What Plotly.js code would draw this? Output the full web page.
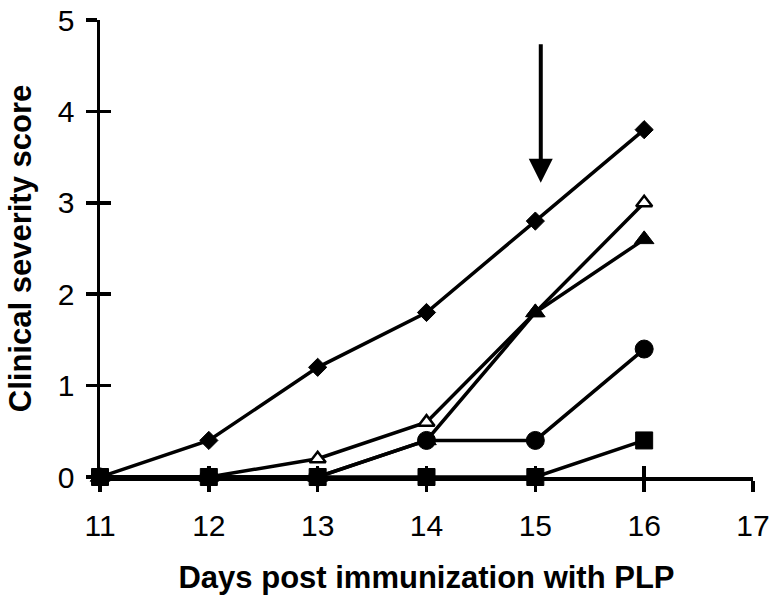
<!DOCTYPE html>
<html>
<head>
<meta charset="utf-8">
<script src="https://cdn.plot.ly/plotly-3.0.1.min.js"></script>
<style>html,body{margin:0;padding:0;background:#fff;}#chart{width:779px;height:595px;}</style>
</head>
<body>
<div id="chart"></div>
<script>
const days = [11, 12, 13, 14, 15, 16];
const squareScores = [0, 0, 0, 0, 0, 0.4];
const circleScores = [0, 0, 0, 0.4, 0.4, 1.4];
const openTriangleScores = [0, 0, 0.2, 0.6, 1.8, 3.0];
const filledTriangleScores = [0, 0, 0, 0.4, 1.8, 2.6];
const diamondScores = [0, 0.4, 1.2, 1.8, 2.8, 3.8];
const xTicks = [11, 12, 13, 14, 15, 16, 17];
const yTicks = [0, 1, 2, 3, 4, 5];
const arrowDay = 15.05, arrowTop = 4.75, arrowTip = 3.22;

const FONT = "Arial, 'Liberation Sans', sans-serif";

function series(y, symbol, size, fill, lw) {
  return {
    x: days, y: y, type: 'scatter', mode: 'lines+markers', cliponaxis: false,
    line: {color: '#000', width: 3.5},
    marker: {symbol: symbol, size: size, color: fill, line: {color: '#000', width: lw}},
    showlegend: false, hoverinfo: 'skip'
  };
}

const data = [
  series(squareScores, 'square', 17, '#000', 1),
  series(circleScores, 'circle', 18, '#000', 1),
  series(openTriangleScores, 'triangle-up', 14, '#fff', 2.5),
  series(filledTriangleScores, 'triangle-up', 17, '#000', 1),
  series(diamondScores, 'diamond', 14, '#000', 1)
];
// invisible trace for the overlay axes that draw the inner half of the ticks
data.push({x: [11], y: [0], xaxis: 'x2', yaxis: 'y2', mode: 'markers', marker: {opacity: 0}, showlegend: false, hoverinfo: 'skip'});

const axisCommon = {showgrid: false, zeroline: false, showline: true, linecolor: '#000', linewidth: 3.5,
  ticks: 'outside', tickcolor: '#000', tickwidth: 3.5, fixedrange: true};

const layout = {
  width: 779, height: 595,
  margin: {l: 100, r: 26, t: 20, b: 118},
  paper_bgcolor: '#fff', plot_bgcolor: '#fff',
  font: {family: FONT, color: '#000'},
  xaxis: Object.assign({}, axisCommon, {
    range: [11, 17], tickvals: xTicks, ticklen: 11, ticklabelstandoff: 8,
    tickfont: {size: 30, family: FONT, color: '#000'},
    title: {text: '<b>Days post immunization with PLP</b>', font: {size: 31, family: FONT, color: '#000'}, standoff: 30}
  }),
  yaxis: Object.assign({}, axisCommon, {
    range: [0, 5], tickvals: yTicks, ticklen: 11, ticklabelstandoff: 5,
    tickfont: {size: 30, family: FONT, color: '#000'},
    title: {text: '<b>Clinical severity score</b>', font: {size: 31, family: FONT, color: '#000'}, standoff: 18}
  }),
  xaxis2: Object.assign({}, axisCommon, {overlaying: 'x', anchor: 'y2', side: 'bottom', range: [11, 17], tickvals: xTicks,
    ticks: 'inside', ticklen: 11, showticklabels: false, showline: false}),
  yaxis2: Object.assign({}, axisCommon, {overlaying: 'y', anchor: 'x2', side: 'left', range: [0, 5], tickvals: yTicks,
    ticks: 'inside', ticklen: 11, showticklabels: false, showline: false}),
  annotations: [{
    x: arrowDay, y: arrowTip, ax: arrowDay, ay: arrowTop, xref: 'x', yref: 'y', axref: 'x', ayref: 'y',
    text: '', showarrow: true, arrowhead: 2, arrowsize: 1.2, arrowwidth: 4, arrowcolor: '#000', standoff: 0
  }]
};

Plotly.newPlot('chart', data, layout, {staticPlot: true, displayModeBar: false});
</script>
</body>
</html>
